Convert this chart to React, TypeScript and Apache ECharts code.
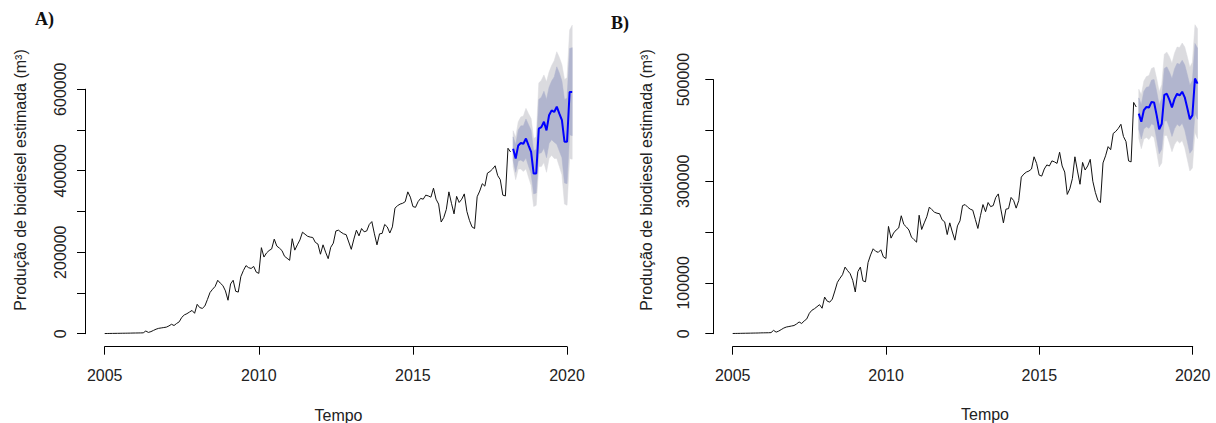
import React, { useEffect, useRef } from "react";
import * as echarts from "echarts";

// Monthly history, Jan 2005 – Mar 2018 (m³)
const h2005 = [300, 400, 500, 600, 700, 800, 900, 1000, 1100, 1200, 1300, 1500];
const h2006 = [1600, 1700, 1800, 2000, 6500, 3000, 5000, 8000, 11000, 13000, 14000, 15000];
const h2007 = [16000, 19000, 23000, 20000, 25000, 29000, 40000, 46000, 49000, 53000, 57000, 50000];
const h2008 = [72000, 64000, 62000, 68000, 84000, 101000, 109000, 116000, 131000, 124000, 118000, 105000];
const h2009 = [82000, 122000, 131000, 104000, 102000, 140000, 155000, 167000, 162000, 160000, 165000, 151000];
const h2010 = [148000, 211000, 188000, 198000, 204000, 208000, 232000, 215000, 210000, 204000, 190000, 185000];
const h2011 = [180000, 233000, 205000, 218000, 230000, 249000, 244000, 239000, 237000, 236000, 224000, 220000];
const h2012 = [195000, 218000, 200000, 184000, 212000, 222000, 252000, 254000, 249000, 245000, 243000, 225000];
const h2013 = [207000, 232000, 254000, 240000, 258000, 250000, 252000, 268000, 275000, 245000, 218000, 245000];
const h2014 = [246000, 268000, 262000, 247000, 262000, 308000, 314000, 318000, 320000, 324000, 348000, 335000];
const h2015 = [312000, 310000, 324000, 332000, 330000, 340000, 338000, 335000, 357000, 330000, 318000, 274000];
const h2016 = [285000, 305000, 348000, 320000, 294000, 337000, 322000, 330000, 343000, 300000, 278000, 262000];
const h2017 = [258000, 336000, 350000, 368000, 362000, 394000, 398000, 404000, 412000, 388000, 378000, 340000];
const h2018 = [338000, 455000, 446000];

const history = [
  ...h2005, ...h2006, ...h2007, ...h2008, ...h2009, ...h2010, ...h2011,
  ...h2012, ...h2013, ...h2014, ...h2015, ...h2016, ...h2017, ...h2018,
];
const historyStart = 2005;
const forecastStart = 2018.25;

// Panel A forecast (Apr 2018 – Mar 2020)
const forecastA = [454000, 430000, 462000, 468000, 466000, 479000, 462000, 446000, 393000, 393000, 503000, 507000, 520000, 499000, 536000, 548000, 544000, 557000, 540000, 524000, 471000, 471000, 593000, 593000];
const lo95A = [410000, 378000, 404000, 404000, 398000, 405000, 384000, 364000, 312000, 315000, 410000, 410000, 420000, 396000, 430000, 438000, 430000, 430000, 410000, 390000, 318000, 315000, 430000, 428000];
const lo80A = [425000, 396000, 424000, 426000, 422000, 431000, 411000, 393000, 343000, 345000, 442000, 444000, 455000, 432000, 467000, 476000, 470000, 465000, 448000, 432000, 370000, 368000, 488000, 486000];
const hi80A = [483000, 464000, 500000, 510000, 510000, 527000, 513000, 499000, 449000, 452000, 575000, 580000, 595000, 575000, 605000, 620000, 630000, 655000, 640000, 620000, 575000, 578000, 700000, 702000];
const hi95A = [498000, 482000, 520000, 532000, 534000, 553000, 540000, 528000, 479000, 483000, 615000, 622000, 635000, 618000, 642000, 658000, 670000, 692000, 678000, 660000, 624000, 628000, 745000, 757000];

// Panel B forecast (Apr 2018 – Mar 2020)
const forecastB = [433000, 417000, 440000, 446000, 445000, 456000, 455000, 430000, 402000, 413000, 470000, 472000, 460000, 445000, 462000, 472000, 469000, 476000, 465000, 444000, 422000, 430000, 502000, 492000];
const lo95B = [385000, 364000, 383000, 386000, 382000, 390000, 386000, 358000, 328000, 336000, 390000, 390000, 375000, 358000, 372000, 380000, 375000, 380000, 366000, 343000, 320000, 326000, 396000, 384000];
const lo80B = [402000, 383000, 403000, 407000, 404000, 413000, 410000, 383000, 354000, 363000, 418000, 419000, 405000, 388000, 403000, 412000, 408000, 414000, 401000, 378000, 355000, 362000, 433000, 422000];
const hi80B = [464000, 451000, 477000, 485000, 486000, 499000, 500000, 477000, 450000, 463000, 522000, 525000, 515000, 502000, 521000, 532000, 530000, 538000, 529000, 510000, 489000, 498000, 571000, 562000];
const hi95B = [481000, 470000, 497000, 506000, 508000, 522000, 524000, 502000, 476000, 490000, 550000, 554000, 545000, 532000, 552000, 564000, 563000, 572000, 564000, 545000, 524000, 534000, 608000, 600000];

const xTickYears = [2005, 2010, 2015, 2020];
const yLabelsA = [0, 200000, 400000, 600000];
const yLabelsB = [0, 100000, 300000, 500000];

const yTitle = "Produção de biodiesel estimada (m³)";
const xTitle = "Tempo";

const LIGHT = "#DBDBDF";
const DARK = "#B1B5CE";
const FONT = "'Liberation Sans', Arial, sans-serif";

function bandSeries(ax: number, lo: number[], hi: number[], color: string, z: number) {
  const rows = lo.map((v, i) => [forecastStart + i / 12, v, hi[i]]);
  return {
    type: "custom",
    xAxisIndex: ax,
    yAxisIndex: ax,
    z,
    silent: true,
    data: rows,
    encode: { x: 0, y: [1, 2] },
    renderItem: (params: any, api: any) => {
      if (params.dataIndex !== 0) return null;
      const upper = rows.map((r) => api.coord([r[0], r[2]]));
      const lower = rows.map((r) => api.coord([r[0], r[1]])).reverse();
      return {
        type: "polygon",
        shape: { points: [...upper, ...lower] },
        style: { fill: color, stroke: color, lineWidth: 0.5 },
      };
    },
  };
}

function panelSeries(p: number, fc: number[], lo95: number[], lo80: number[], hi80: number[], hi95: number[]) {
  const ax = p * 3;
  const t = (i: number) => forecastStart + i / 12;
  return [
    bandSeries(ax, lo95, hi95, LIGHT, 1),
    bandSeries(ax, lo80, hi80, DARK, 2),
    {
      type: "line",
      xAxisIndex: ax,
      yAxisIndex: ax,
      symbol: "none",
      silent: true,
      z: 3,
      data: history.map((v, i) => [historyStart + i / 12, v]),
      lineStyle: { color: "#111", width: 1 },
    },
    {
      type: "line",
      xAxisIndex: ax,
      yAxisIndex: ax,
      symbol: "none",
      silent: true,
      z: 4,
      data: fc.map((v, i) => [t(i), v]),
      lineStyle: { color: "#0000FF", width: 2 },
    },
  ];
}

const hiddenAxis = (gridIndex: number, min: number, max: number) => ({
  type: "value",
  gridIndex,
  min,
  max,
  show: false,
  splitLine: { show: false },
});

const xDisplayAxis = (gridIndex: number) => ({
  type: "value",
  gridIndex,
  min: 2005,
  max: 2020,
  interval: 5,
  position: "bottom",
  axisLine: { show: true, onZero: false, lineStyle: { color: "#000", width: 1 } },
  axisTick: { show: true, length: 8, inside: false, lineStyle: { color: "#000" } },
  axisLabel: {
    show: true,
    margin: 21,
    fontSize: 16,
    fontFamily: FONT,
    color: "#222",
    formatter: (v: number) => (xTickYears.includes(v) ? String(v) : ""),
  },
  splitLine: { show: false },
});

const yDisplayAxis = (gridIndex: number, max: number, labels: number[], margin: number) => ({
  type: "value",
  gridIndex,
  min: 0,
  max,
  interval: 100000,
  position: "left",
  axisLine: { show: true, onZero: false, lineStyle: { color: "#000", width: 1 } },
  axisTick: { show: true, length: 8, inside: false, lineStyle: { color: "#000" } },
  axisLabel: {
    show: true,
    rotate: 90,
    margin,
    fontSize: 16,
    fontFamily: FONT,
    color: "#222",
    formatter: (v: number) => (labels.includes(v) ? String(v) : ""),
  },
  splitLine: { show: false },
});

export default function App() {
  const ref = useRef<HTMLDivElement>(null);
  useEffect(() => {
    if (!ref.current) return;
    const chart = echarts.init(ref.current, undefined, { renderer: "svg" });
    const option: any = {
      animation: false,
      backgroundColor: "#ffffff",
      grid: [
        // Panel A
        { left: 86, top: 13, width: 505, height: 333 },
        { left: 104.7, top: 13, width: 462.3, height: 333.7 },
        { left: 85, top: 89.2, width: 10, height: 244.5 },
        // Panel B
        { left: 714, top: 13, width: 502.4, height: 333 },
        { left: 732.7, top: 13, width: 460, height: 333.7 },
        { left: 713.3, top: 79.6, width: 10, height: 254.1 },
      ],
      xAxis: [
        hiddenAxis(0, 2004.393, 2020.777),
        xDisplayAxis(1),
        hiddenAxis(2, 0, 1),
        hiddenAxis(3, 2004.39, 2020.77),
        xDisplayAxis(4),
        hiddenAxis(5, 0, 1),
      ],
      yAxis: [
        hiddenAxis(0, -30300, 787000),
        hiddenAxis(1, 0, 1),
        yDisplayAxis(2, 600000, yLabelsA, 17),
        hiddenAxis(3, -24300, 631000),
        hiddenAxis(4, 0, 1),
        yDisplayAxis(5, 500000, yLabelsB, 22),
      ],
      series: [
        ...panelSeries(0, forecastA, lo95A, lo80A, hi80A, hi95A),
        ...panelSeries(1, forecastB, lo95B, lo80B, hi80B, hi95B),
      ],
      graphic: [
        { type: "text", left: 35, top: 10, style: { text: "A)", font: "bold 18px 'Liberation Serif', 'Times New Roman', serif", fill: "#111" } },
        { type: "text", left: 611, top: 14, style: { text: "B)", font: "bold 18px 'Liberation Serif', 'Times New Roman', serif", fill: "#111" } },
        { type: "text", x: 20, y: 180, rotation: Math.PI / 2, style: { text: yTitle, font: `16px ${FONT}`, fill: "#222", align: "center", verticalAlign: "middle" } },
        { type: "text", x: 646, y: 180, rotation: Math.PI / 2, style: { text: yTitle, font: `16px ${FONT}`, fill: "#222", align: "center", verticalAlign: "middle" } },
        { type: "text", x: 338.5, y: 415, style: { text: xTitle, font: `16px ${FONT}`, fill: "#222", align: "center", verticalAlign: "middle" } },
        { type: "text", x: 985, y: 414, style: { text: xTitle, font: `16px ${FONT}`, fill: "#222", align: "center", verticalAlign: "middle" } },
      ],
    };
    chart.setOption(option);
    return () => chart.dispose();
  }, []);
  return (
    <div
      ref={ref}
      style={{ position: "fixed", left: 0, top: 0, width: 1216, height: 423, background: "#fff" }}
    />
  );
}
